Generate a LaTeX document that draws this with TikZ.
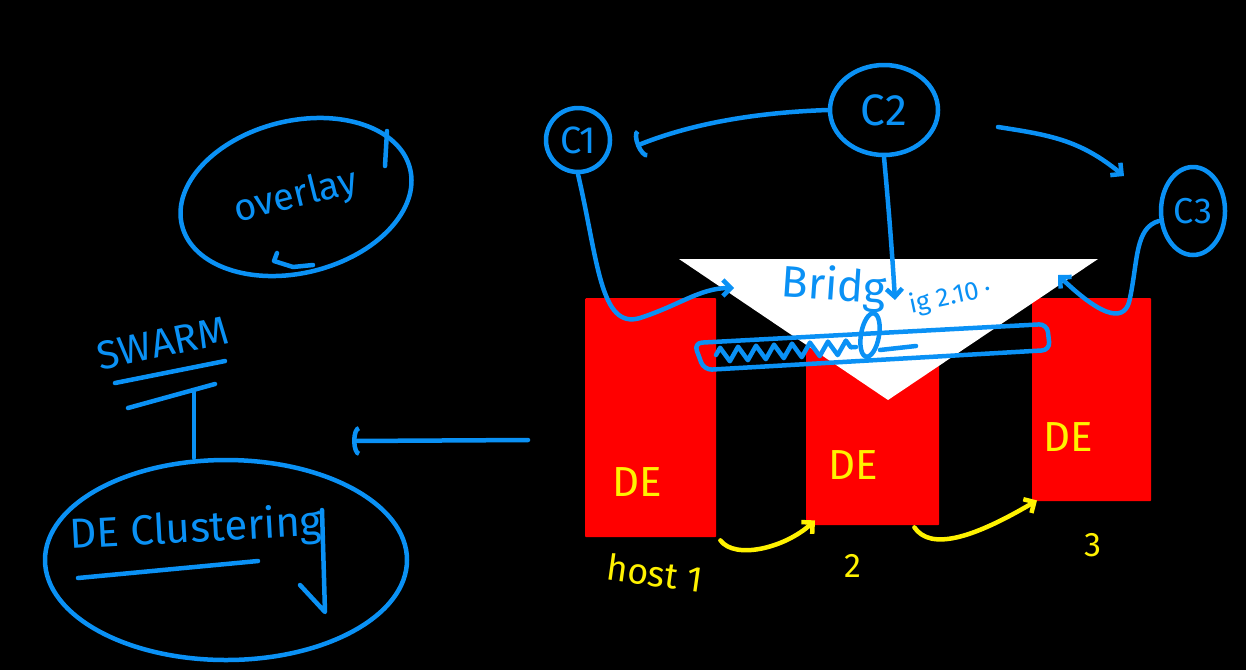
\documentclass[tikz,border=0pt]{standalone}
\usepackage{fontspec}
\setmainfont{Fira Sans}
\usetikzlibrary{shapes.geometric,arrows.meta,positioning,decorations.pathmorphing}
\definecolor{sketchblue}{HTML}{0A91F5}
\definecolor{hostred}{HTML}{FF0000}
\definecolor{penyellow}{HTML}{FFF200}

\begin{document}
\begin{tikzpicture}[x=1pt, y=-1pt,
    pen/.style={draw=sketchblue, line width=4.5pt, line cap=round, line join=round},
    hl/.style={draw=penyellow, line width=4.5pt, line cap=round, line join=round},
    bluetext/.style={text=sketchblue, inner sep=0pt},
    yellowtext/.style={text=penyellow, inner sep=0pt},
    hostbox/.style={fill=hostred, anchor=north west, inner sep=0pt, rounded corners=1pt},
    arc/.style={-{Arc Barb[length=7pt, width=30pt]}},
    barb/.style={-{Straight Barb[length=8pt, width=16pt]}}
]
    \fill[black] (0,0) rectangle (1246,670);
    \useasboundingbox (0,0) rectangle (1246,670);

    % hosts and the bridge triangle
    \node[hostbox, minimum width=131pt, minimum height=239pt] (host1) at (585,298) {};
    \node[hostbox, minimum width=133pt, minimum height=195pt] (host2) at (806,330) {};
    \node[hostbox, minimum width=119pt, minimum height=203pt] (host3) at (1032,298) {};
    \coordinate (bridgel) at (679,259);
    \coordinate (bridger) at (1098,259);
    \coordinate (bridgetip) at (888,400);
    \fill[white] (bridgel) -- (bridger) -- (bridgetip) -- cycle;

    \node[yellowtext, font=\fontsize{42}{42}\selectfont] (de1) at (637,482) {DE};
    \node[yellowtext, font=\fontsize{42}{42}\selectfont] (de2) at (853,465) {DE};
    \node[yellowtext, font=\fontsize{42}{42}\selectfont] (de3) at (1068,437) {DE};
    \node[yellowtext, font=\fontsize{36}{36}\selectfont, rotate=-8] (host1label) at (655,573) {host 1};
    \node[yellowtext, font=\fontsize{34}{34}\selectfont] (host2label) at (853,566) {2};
    \node[yellowtext, font=\fontsize{34}{34}\selectfont] (host3label) at (1093,545) {3};

    \draw[hl, barb] ([xshift=4pt,yshift=-3pt]host1.south east) .. controls (735,560) and (785,548) .. ([xshift=9pt,yshift=5pt]host2.south west);
    \draw[hl, barb] ([xshift=-25pt,yshift=-2pt]host2.south east) .. controls (930,550) and (970,540) .. ([xshift=5pt,yshift=1pt]host3.south west);

    % controllers
    \node[pen, circle, minimum size=64pt, bluetext, font=\fontsize{38}{38}\selectfont] (c1) at (578,140) {C1};
    \node[pen, ellipse, minimum width=108pt, minimum height=90pt, bluetext, font=\fontsize{44}{44}\selectfont] (c2) at (884,110) {C2};
    \node[pen, ellipse, minimum width=64pt, minimum height=88pt, bluetext, font=\fontsize{36}{36}\selectfont] (c3) at (1193,211) {C3};

    \coordinate (c1in) at (636,146);
    \coordinate (c3in) at (1124,176);
    \coordinate (c2start) at (998,127);
    \draw[pen, arc] (c2.west) .. controls (770,112) and (700,120) .. (c1in);
    \draw[pen, barb] (c2start) .. controls (1050,135) and (1080,140) .. (c3in);

    % bridge
    \node[bluetext, font=\fontsize{44}{44}\selectfont, rotate=-4] (bridgetext) at (834,288) {Bridg};
    \node[bluetext, font=\fontsize{26}{26}\selectfont, rotate=12, anchor=west] (bridgever) at (910,306) {ig 2.10 ·};
    \coordinate (bb1) at (694,343);
    \coordinate (bb2) at (1047,324);
    \coordinate (bb3) at (1050,350);
    \coordinate (bb4) at (704,370);
    \draw[pen, rounded corners=8pt] (bb1) -- (bb2) -- (bb3) -- (bb4) -- cycle;
    \draw[pen, decorate, decoration={zigzag, amplitude=7pt, segment length=18pt}] (716,355) -- (856,347);
    \draw[pen, rotate around={-10:(870,335)}] (870,335) ellipse [x radius=9pt, y radius=22pt];
    \draw[pen] (880,350) -- (916,346);

    \coordinate (c1end) at (734,288);
    \coordinate (c2end) at (895,300);
    \coordinate (c3end) at (1058,275);
    \draw[pen, barb] (c1.south) .. controls (598,260) and (600,330) .. (640,318) .. controls (680,305) and (700,288) .. (c1end);
    \draw[pen, barb] (c2.south) .. controls (888,200) and (892,250) .. (c2end);
    \draw[pen, barb] ([yshift=-10pt]c3.west) .. controls (1135,228) and (1138,260) .. (1130,298) .. controls (1126,322) and (1105,320) .. (c3end);

    % overlay and clustering
    \node[pen, ellipse, minimum width=235pt, minimum height=152pt, rotate=14, bluetext, font=\fontsize{38}{38}\selectfont] (overlay) at (296,197) {overlay};
    \draw[pen] (387,131) -- (385,166);
    \draw[pen] (277,253) -- (274,261) -- (293,267) -- (313,265);

    \node[bluetext, font=\fontsize{40}{40}\selectfont, rotate=12] (swarm) at (163,343) {SWARM};
    \draw[pen] (115,383) -- (225,361);
    \draw[pen] (128,408) -- (215,384);
    \coordinate (swarmbar) at (194,392);

    \node[pen, ellipse, minimum width=362pt, minimum height=200pt] (cluster) at (226,560) {};
    \node[bluetext, font=\fontsize{42}{42}\selectfont, rotate=3] (clustertext) at (196,530) {DE Clustering};
    \draw[pen] (78,578) -- (258,561);
    \draw[pen] (322,510) -- (325,612) -- (300,585);
    \draw[pen] (swarmbar) -- (swarmbar |- cluster.north);

    \coordinate (bridgeout) at (528,440);
    \coordinate (clusterin) at (352,441);
    \draw[pen, arc] (bridgeout) -- (clusterin);
\end{tikzpicture}
\end{document}
